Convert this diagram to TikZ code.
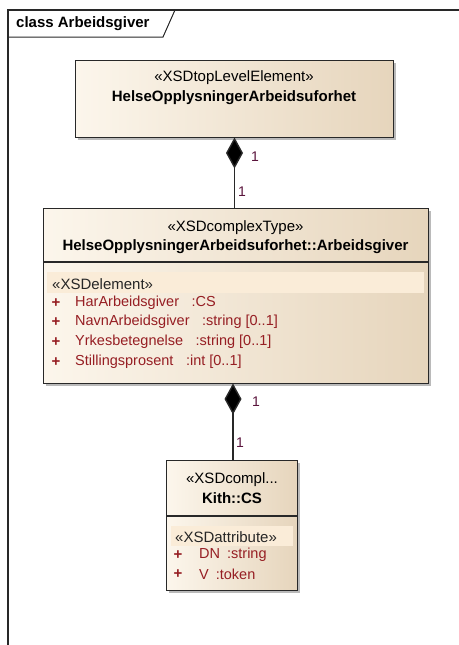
\documentclass[tikz,border=0pt]{standalone}
\usepackage{fontspec}
\setmainfont{Liberation Sans}
\usetikzlibrary{arrows.meta,shadows}
\definecolor{boxL}{RGB}{252,246,236}
\definecolor{boxR}{RGB}{230,213,188}
\definecolor{band}{RGB}{250,236,216}
\definecolor{attr}{RGB}{150,30,35}
\definecolor{mult}{RGB}{90,20,60}
\definecolor{edge}{RGB}{40,40,40}
\tikzset{
  umlbox/.style={draw=edge, line width=1.2pt, left color=boxL, right color=boxR,
    anchor=north west, inner sep=0pt,
    drop shadow={shadow xshift=2.5pt, shadow yshift=-2.5pt, fill=black!45, opacity=0.6}},
  txt/.style={font=\fontsize{15}{17}\selectfont, inner sep=0pt},
  btxt/.style={font=\fontsize{15}{17}\selectfont\bfseries, inner sep=0pt},
  atxt/.style={font=\fontsize{14.5}{17}\selectfont, text=attr, inner sep=0pt, anchor=west},
  plus/.style={font=\fontsize{15}{17}\selectfont\bfseries, text=attr, inner sep=0pt},
  bandbox/.style={fill=band, draw=none, anchor=north west, inner sep=0pt},
  multlbl/.style={font=\fontsize{14}{16}\selectfont, text=mult, inner sep=0pt},
  comp/.style={draw=edge, line width=1.4pt, {Diamond[length=31pt,width=17pt,fill=black]}-},
}
\begin{document}
\begin{tikzpicture}[x=1pt,y=-1pt]
\useasboundingbox (0,0) rectangle (458,645);
\fill[white] (0,0) rectangle (458,645);
% frame
\draw[edge, line width=1.3pt] (8,645) -- (8,10) -- (462,10);
\draw[edge, line width=1pt] (8,37) -- (163,37) -- (175,10);
\node[btxt, anchor=west] (title) at (16,24) {class Arbeidsgiver};

% top box
\node[umlbox, minimum width=318pt, minimum height=77pt] (top) at (75,60) {};
\node[txt] (topst) at (234,78) {«XSDtopLevelElement»};
\node[btxt] (topnm) at (234,98) {HelseOpplysningerArbeidsuforhet};

% middle box
\node[umlbox, minimum width=385pt, minimum height=175pt] (mid) at (43,208) {};
\draw[edge, line width=1.2pt] (43,262) -- (428,262);
\node[txt] (midst) at (235.5,228) {«XSDcomplexType»};
\node[btxt] (midnm) at (235.5,247) {HelseOpplysningerArbeidsuforhet::Arbeidsgiver};
\node[bandbox, minimum width=377pt, minimum height=21pt] (midband) at (47,272) {};
\node[txt, anchor=west, text=black!85] (midbt) at (52,284) {«XSDelement»};
\node[plus] (p1) at (56,303) {+};
\node[atxt] (a1) at (75,303) {HarArbeidsgiver\hspace{12.5pt}:CS};
\node[plus] (p2) at (56,322) {+};
\node[atxt] (a2) at (75,322) {NavnArbeidsgiver\hspace{12.5pt}:string [0..1]};
\node[plus] (p3) at (56,342) {+};
\node[atxt] (a3) at (75,342) {Yrkesbetegnelse\hspace{12.5pt}:string [0..1]};
\node[plus] (p4) at (56,362) {+};
\node[atxt] (a4) at (75,362) {Stillingsprosent\hspace{12.5pt}:int [0..1]};

% lower box
\node[umlbox, minimum width=131pt, minimum height=130pt] (low) at (166,460) {};
\draw[edge, line width=1.2pt] (166,516) -- (297,516);
\node[txt] (lowst) at (232,480) {«XSDcompl...};
\node[btxt] (lownm) at (232,498) {Kith::CS};
\node[bandbox, minimum width=122pt, minimum height=20pt] (lowband) at (171,526) {};
\node[txt, anchor=west, text=black!85] (lowbt) at (175,537) {«XSDattribute»};
\node[plus] (q1) at (178,555) {+};
\node[atxt] (b1) at (199,555) {DN\hspace{7pt}:string};
\node[plus] (q2) at (178,574) {+};
\node[atxt] (b2) at (199,574) {V\hspace{7pt}:token};

% connectors
\coordinate (c1s) at (234.5,137.5);
\coordinate (c1e) at (234.5,208);
\draw[comp] (c1s) -- (c1e);
\node[multlbl] (m1a) at (255,157) {1};
\node[multlbl] (m1b) at (242,192) {1};

\coordinate (c2s) at (233,383.5);
\coordinate (c2e) at (233,460);
\draw[comp] (c2s) -- (c2e);
\node[multlbl] (m2a) at (256,402) {1};
\node[multlbl] (m2b) at (240,443) {1};
\end{tikzpicture}
\end{document}
